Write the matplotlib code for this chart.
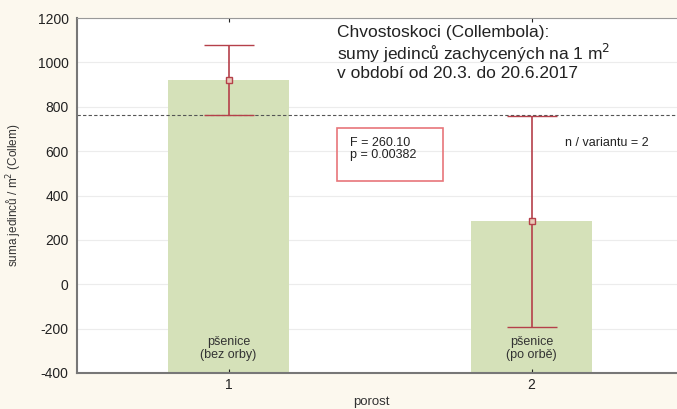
import matplotlib.pyplot as plt
import numpy as np

plt.rcParams['font.family'] = ['Liberation Sans', 'DejaVu Sans']
plt.rcParams['axes.unicode_minus'] = False

porost = [1, 2]
means = [921, 283]
err = [158, 475]
bar_labels = ['pšenice\n(bez orby)', 'pšenice\n(po orbě)']
ref_level = 765
yticks = [-400, -200, 0, 200, 400, 600, 800, 1000, 1200]

fig = plt.figure(figsize=(6.77, 4.09), dpi=100, facecolor='#fcf8ee')
ax = fig.add_axes([77/677, 1 - 373/409, 1 - 77/677, (373-18)/409])
ax.set_facecolor('white')

for y in yticks:
    ax.axhline(y, color='#ececec', lw=0.8, zorder=0)

ax.bar(porost, [m - (-400) for m in means], bottom=-400, width=0.40,
       color='#d5e1b9', zorder=1)
ax.errorbar(porost, means, yerr=err, fmt='s', mfc='#e8c9b8', mec='#b5404a',
            ms=5, mew=1, ecolor='#b5404a', elinewidth=1.2, capsize=18,
            capthick=1.2, zorder=3)
ax.axhline(ref_level, color='#555555', lw=0.8, ls=(0, (3, 2)), zorder=2)

for x, lab in zip(porost, bar_labels):
    ax.text(x, -290, lab, ha='center', va='center', fontsize=9,
            color='#333333', linespacing=1.15, zorder=4)

ax.set_xlim(0.5, 2.48)
ax.set_ylim(-400, 1200)
ax.set_xticks(porost)
ax.set_yticks(yticks)
ax.tick_params(axis='both', labelsize=10, colors='#222222', length=3,
               direction='in', top=True)
ax.tick_params(axis='y', length=0, pad=6)
ax.spines['right'].set_visible(False)
ax.spines['top'].set_color('#999999')
ax.spines['left'].set_color('#777777')
ax.spines['bottom'].set_color('#777777')
ax.spines['left'].set_linewidth(1.5)
ax.spines['bottom'].set_linewidth(1.5)

ax.set_ylabel('suma jedinců / m$^2$ (Collem)', fontsize=8.5, color='#333333',
              labelpad=10)
ax.set_xlabel('porost', fontsize=9.5, color='#333333')
ax.xaxis.set_label_coords(0.49, -0.065)

ax.text(337/677, 1 - 25/409,
        'Chvostoskoci (Collembola):\nsumy jedinců zachycených na 1 m$^2$\nv období od 20.3. do 20.6.2017',
        transform=fig.transFigure, fontsize=12.5, va='top', ha='left',
        color='#222222', linespacing=1.1)

box = plt.Rectangle((337/677, 1 - 181/409), (443-337)/677, (181-128)/409,
                    transform=fig.transFigure, fill=False, ec='#e8767a', lw=1.2)
fig.add_artist(box)
fig.text(350/677, 1 - 149/409, 'F = 260.10\np = 0.00382', fontsize=9,
         va='center', ha='left', color='#222222', linespacing=1.1)
fig.text(565/677, 1 - 143/409, 'n / variantu = 2', fontsize=9,
         va='center', ha='left', color='#222222')

fig.savefig('out.png', dpi=100, facecolor=fig.get_facecolor())
